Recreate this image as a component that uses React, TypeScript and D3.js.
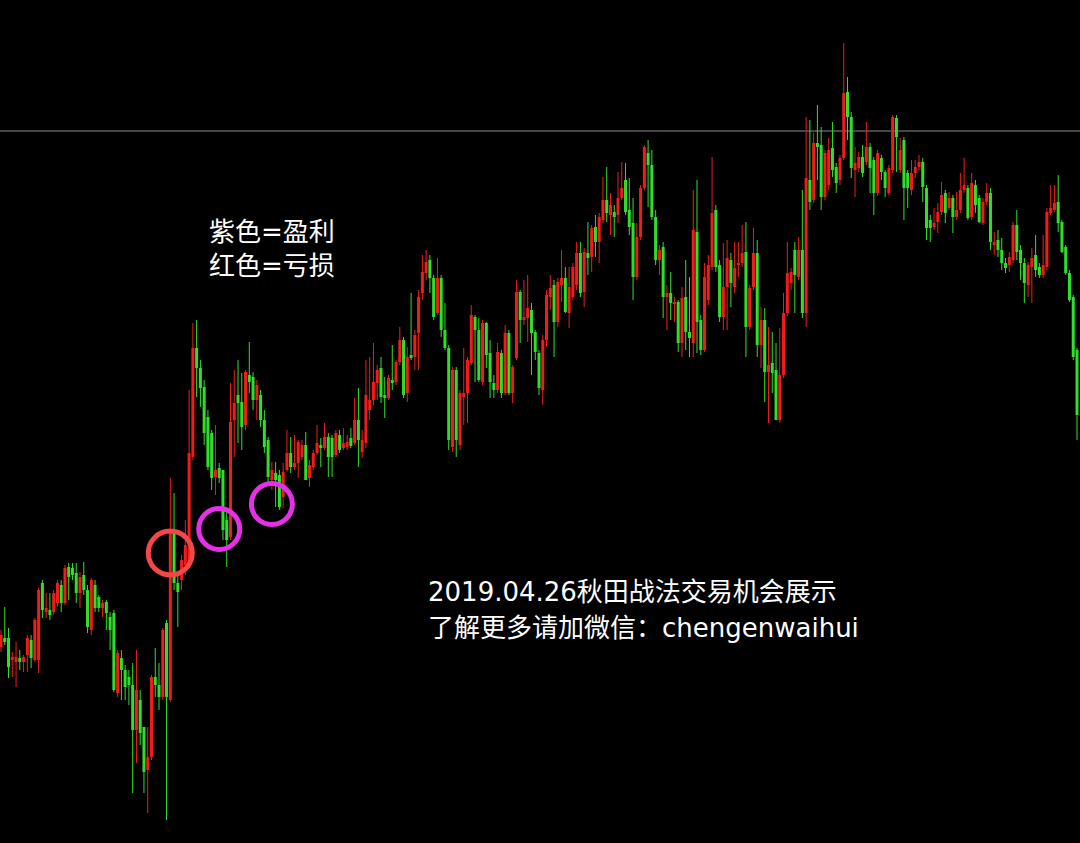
import React from "react";
import * as d3 from "d3";

const WIDTH = 1080;
const HEIGHT = 843;

// Candles as [open, high, low, close], in price points
const bars: [number, number, number, number][] = [
  [253, 270, 248, 265], [262, 293, 255, 258], [262, 272, 222, 233], [240, 248, 223, 243], [238, 258, 213, 243], [242, 250, 230, 238],
  [238, 245, 228, 243], [245, 265, 228, 262], [260, 265, 232, 242], [240, 282, 238, 280], [240, 312, 227, 310], [317, 320, 282, 290],
  [288, 307, 282, 292], [290, 307, 280, 285], [288, 310, 285, 307], [297, 320, 293, 317], [315, 320, 288, 297], [297, 335, 295, 332],
  [333, 337, 300, 323], [332, 337, 320, 325], [327, 337, 297, 307], [307, 328, 292, 323], [325, 338, 305, 310], [310, 315, 267, 273],
  [270, 322, 265, 320], [315, 320, 288, 292], [303, 305, 288, 292], [292, 300, 283, 297], [298, 300, 270, 287], [283, 288, 250, 270],
  [287, 290, 208, 210], [207, 250, 203, 247], [242, 250, 200, 230], [230, 235, 200, 213], [223, 230, 195, 215], [215, 237, 107, 170],
  [170, 250, 137, 210], [200, 210, 155, 167], [173, 173, 107, 128], [130, 173, 87, 143], [143, 225, 140, 223], [223, 252, 203, 215],
  [215, 237, 190, 203], [203, 272, 200, 270], [277, 280, 80, 203], [200, 422, 198, 370], [370, 407, 310, 317], [317, 325, 273, 308],
  [320, 345, 310, 340], [335, 380, 325, 355], [337, 510, 335, 447], [443, 577, 440, 552], [552, 580, 503, 532], [532, 540, 493, 512],
  [513, 520, 455, 467], [483, 490, 430, 433], [467, 470, 410, 422], [423, 475, 405, 430], [432, 437, 417, 422], [430, 430, 360, 370],
  [380, 390, 333, 360], [363, 517, 360, 478], [480, 530, 443, 497], [505, 540, 457, 497], [498, 527, 450, 473], [475, 530, 470, 528],
  [525, 558, 507, 518], [523, 528, 490, 500], [500, 520, 480, 515], [505, 510, 473, 480], [480, 490, 447, 453], [460, 463, 418, 423],
  [420, 438, 410, 430], [427, 438, 393, 420], [425, 430, 390, 393], [403, 437, 392, 428], [430, 470, 428, 447], [447, 463, 427, 433],
  [433, 465, 430, 437], [437, 460, 422, 458], [443, 460, 440, 455], [455, 468, 420, 420], [422, 440, 413, 435], [433, 450, 430, 447],
  [447, 475, 445, 457], [455, 462, 433, 452], [452, 477, 450, 463], [463, 467, 423, 443], [462, 465, 423, 443], [445, 470, 443, 467],
  [465, 470, 447, 450], [452, 472, 450, 457], [453, 465, 450, 458], [462, 472, 452, 454], [457, 502, 455, 480], [480, 512, 433, 460],
  [448, 470, 442, 460], [457, 540, 452, 505], [490, 543, 480, 500], [500, 557, 495, 518], [517, 535, 500, 530], [532, 543, 497, 503],
  [505, 523, 482, 502], [502, 525, 500, 522], [520, 555, 510, 517], [518, 540, 515, 538], [538, 573, 535, 560], [560, 563, 502, 505],
  [507, 553, 498, 543], [545, 607, 540, 542], [543, 570, 530, 565], [567, 610, 530, 603], [607, 645, 600, 628], [627, 650, 620, 638],
  [640, 645, 607, 622], [622, 625, 580, 583], [587, 642, 585, 622], [622, 625, 563, 570], [570, 597, 550, 552], [552, 555, 450, 460],
  [453, 533, 448, 530], [530, 533, 443, 460], [455, 510, 450, 507], [503, 552, 475, 507], [507, 543, 477, 540], [537, 595, 535, 585],
  [583, 585, 518, 570], [570, 582, 518, 520], [518, 580, 515, 577], [577, 578, 532, 545], [547, 560, 502, 518], [517, 525, 502, 510],
  [510, 557, 507, 548], [547, 550, 502, 507], [507, 575, 505, 567], [567, 570, 505, 507], [507, 535, 497, 533], [542, 620, 540, 608],
  [608, 610, 557, 580], [580, 620, 575, 583], [582, 625, 558, 592], [590, 597, 525, 567], [568, 570, 540, 548], [547, 550, 505, 512],
  [510, 565, 495, 560], [560, 610, 553, 605], [603, 625, 590, 612], [615, 620, 543, 578], [578, 622, 573, 618], [615, 650, 598, 622],
  [622, 633, 587, 588], [587, 633, 572, 613], [603, 637, 600, 633], [615, 658, 610, 647], [647, 658, 603, 607], [608, 652, 593, 648],
  [647, 678, 625, 642], [643, 675, 628, 672], [673, 685, 643, 658], [658, 687, 637, 683], [680, 723, 677, 700], [700, 733, 678, 687],
  [685, 707, 665, 695], [688, 695, 663, 683], [685, 728, 677, 702], [702, 738, 700, 712], [720, 737, 685, 688], [690, 722, 665, 673],
  [677, 702, 600, 623], [623, 677, 620, 663], [663, 715, 660, 712], [712, 755, 710, 753], [747, 760, 693, 735], [735, 750, 680, 683],
  [683, 690, 635, 640], [640, 655, 625, 650], [653, 658, 582, 603], [603, 615, 570, 607], [607, 628, 580, 597], [596, 603, 578, 598],
  [598, 600, 548, 557], [557, 613, 543, 602], [603, 640, 550, 568], [568, 623, 543, 562], [557, 710, 543, 670], [668, 720, 547, 578],
  [580, 585, 545, 550], [550, 637, 548, 623], [600, 645, 595, 635], [633, 743, 630, 687], [690, 695, 628, 633], [635, 640, 578, 583],
  [583, 657, 570, 613], [613, 660, 570, 642], [640, 647, 593, 617], [613, 658, 607, 632], [635, 658, 623, 637], [637, 675, 633, 647],
  [648, 678, 543, 573], [573, 615, 570, 612], [613, 672, 610, 647], [647, 660, 543, 555], [555, 593, 532, 580], [580, 592, 498, 528],
  [528, 573, 477, 535], [537, 568, 507, 527], [530, 557, 480, 480], [480, 572, 477, 525], [525, 607, 522, 587], [587, 658, 584, 627],
  [617, 632, 610, 628], [650, 658, 587, 625], [623, 663, 620, 650], [650, 710, 582, 587], [587, 783, 573, 722], [720, 780, 690, 698],
  [700, 767, 697, 757], [757, 795, 720, 753], [755, 773, 690, 703], [703, 750, 700, 747], [715, 762, 710, 750], [752, 778, 723, 730],
  [733, 737, 707, 717], [720, 745, 715, 742], [742, 857, 740, 807], [808, 823, 760, 783], [783, 788, 722, 732], [730, 753, 703, 737],
  [732, 748, 728, 743], [743, 755, 723, 727], [738, 778, 735, 753], [753, 757, 707, 732], [740, 743, 685, 707], [707, 750, 704, 747],
  [742, 745, 720, 728], [728, 730, 703, 712], [707, 735, 705, 732], [730, 785, 727, 783], [782, 785, 728, 763], [730, 762, 727, 750],
  [760, 763, 680, 712], [727, 730, 692, 712], [710, 740, 705, 727], [727, 740, 722, 733], [733, 745, 730, 738], [738, 742, 698, 713],
  [712, 715, 660, 672], [680, 685, 658, 672], [673, 692, 670, 677], [678, 697, 667, 688], [688, 718, 685, 705], [707, 710, 677, 687],
  [692, 708, 690, 702], [702, 705, 667, 683], [683, 708, 680, 690], [690, 727, 687, 710], [710, 742, 707, 715], [712, 715, 680, 682],
  [683, 727, 680, 717], [715, 720, 687, 695], [702, 705, 677, 678], [677, 702, 675, 698], [698, 717, 695, 707], [707, 712, 650, 658],
  [655, 668, 645, 658], [660, 670, 643, 650], [650, 662, 630, 637], [637, 642, 627, 632], [635, 648, 628, 643], [640, 678, 637, 675],
  [675, 690, 640, 648], [650, 655, 620, 637], [637, 642, 597, 617], [615, 638, 603, 635], [633, 652, 597, 642], [645, 665, 623, 630],
  [633, 637, 622, 625], [625, 665, 622, 635], [633, 692, 630, 688], [687, 715, 685, 692], [690, 715, 688, 697], [698, 725, 668, 677],
  [678, 680, 647, 648], [653, 655, 625, 627], [627, 630, 598, 600], [603, 605, 540, 543], [550, 552, 460, 485],
];

// Horizontal price level across the chart
const levelPrice = 769;

// Entries marked on the chart: purple = profit, red = loss
const trades = [
  { bar: 45, price: 347, result: "loss" },
  { bar: 58, price: 371, result: "win" },
  { bar: 72, price: 396, result: "win" },
];

const legendLines = ["紫色=盈利", "红色=亏损"];
const noteLines = ["2019.04.26秋田战法交易机会展示", "了解更多请加微信：chengenwaihui"];

const UP = "#f01c1c";
const DOWN = "#2fe02a";
const FONT = '"DejaVu Sans", "Noto Sans CJK SC", sans-serif';

export default function App() {
  const x = d3.scaleLinear().domain([0, bars.length - 1]).range([1, 1077]);
  const y = d3.scaleLinear().domain([0, 900]).range([900, 0]);
  const bodyW = 3;

  return (
    <div style={{ position: "fixed", left: 0, top: 0, width: WIDTH, height: HEIGHT, background: "#000" }}>
      <svg width={WIDTH} height={HEIGHT} style={{ display: "block" }}>
        <rect width={WIDTH} height={HEIGHT} fill="#000" />
        <line x1={0} x2={WIDTH} y1={y(levelPrice)} y2={y(levelPrice)} stroke="#8a8a98" strokeWidth={1} />
        {bars.map(([o, h, l, c], i) => {
          const cx = x(i);
          const col = c >= o ? UP : DOWN;
          const top = y(Math.max(o, c));
          const bot = y(Math.min(o, c));
          return (
            <g key={i}>
              <line x1={cx} x2={cx} y1={y(h)} y2={y(l)} stroke={col} strokeWidth={1} />
              <rect x={cx - bodyW / 2} y={top} width={bodyW} height={Math.max(1, bot - top)} fill={col} />
            </g>
          );
        })}
        {trades.map((t, i) => (
          <circle
            key={i}
            cx={x(t.bar)}
            cy={y(t.price)}
            r={t.result === "loss" ? 22 : 20.5}
            fill="none"
            stroke={t.result === "loss" ? "#f44848" : "#e530e8"}
            strokeWidth={5}
          />
        ))}
        <g fill="#fff" fontFamily={FONT} fontSize={26}>
          {legendLines.map((s, i) => (
            <text key={s} x={209} y={241 + i * 34}>{s}</text>
          ))}
          {noteLines.map((s, i) => (
            <text key={s} x={428} y={601 + i * 36}>{s}</text>
          ))}
        </g>
      </svg>
    </div>
  );
}
